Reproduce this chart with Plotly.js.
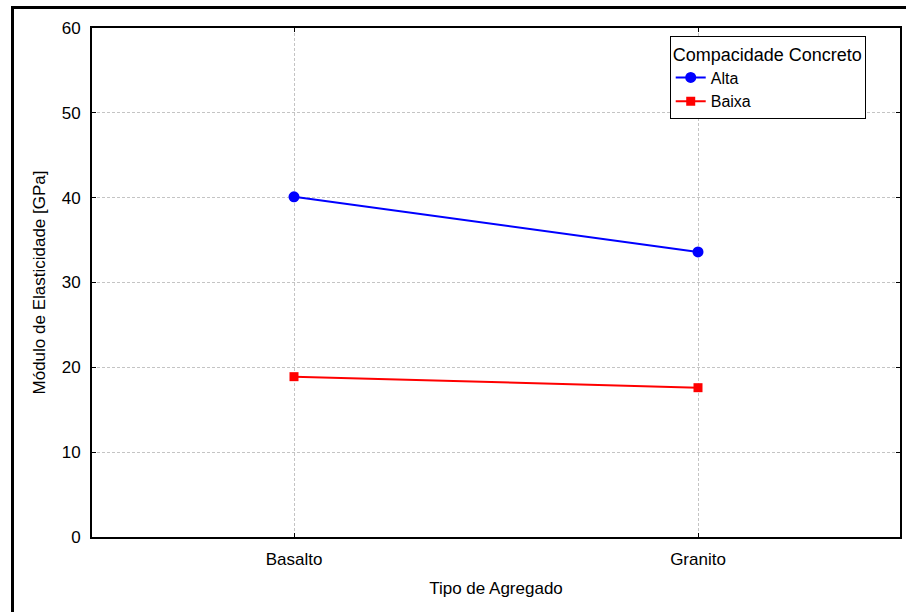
<!DOCTYPE html>
<html>
<head>
<meta charset="utf-8">
<script src="https://cdn.plot.ly/plotly-3.0.1.min.js"></script>
<style>
html,body{margin:0;padding:0;background:#fff;}
#wrap{position:relative;width:906px;height:612px;}
#chart{width:906px;height:612px;}
#frameL{position:absolute;left:11px;top:6px;width:3px;height:606px;background:#000;}
#frameT{position:absolute;left:11px;top:6px;width:895px;height:3px;background:#000;}
</style>
</head>
<body>
<div id="wrap">
<div id="chart"></div>
<div id="frameL"></div>
<div id="frameT"></div>
</div>
<script>
const categories = ["Basalto", "Granito"];
const alta = [40.1, 33.6];
const baixa = [18.9, 17.6];
const yTicks = [0, 10, 20, 30, 40, 50, 60];

const font = "Liberation Sans, Arial, sans-serif";

const traces = [
  {
    x: categories, y: alta, name: "Alta", type: "scatter", mode: "lines+markers",
    line: {color: "#0000ff", width: 2},
    marker: {symbol: "circle", size: 11, color: "#0000ff"}
  },
  {
    x: categories, y: baixa, name: "Baixa", type: "scatter", mode: "lines+markers",
    line: {color: "#ff0000", width: 2},
    marker: {symbol: "square", size: 9, color: "#ff0000"}
  }
];

const axisCommon = {
  showline: true, linecolor: "#000", linewidth: 2, mirror: "ticks",
  ticks: "inside", ticklen: 4, tickcolor: "#000", tickwidth: 1,
  showgrid: true, gridcolor: "#c4c4c4", gridwidth: 1, griddash: "3px,2px",
  zeroline: false,
  tickfont: {family: font, size: 17, color: "#000"}
};

const layout = {
  width: 906, height: 612,
  margin: {l: 92, r: 6, t: 28, b: 75},
  paper_bgcolor: "#fff", plot_bgcolor: "#fff",
  font: {family: font, color: "#000"},
  showlegend: true,
  xaxis: Object.assign({}, axisCommon, {
    type: "category", range: [-0.5, 1.5],
    title: {text: "Tipo de Agregado", font: {family: font, size: 17, color: "#000"}, standoff: 14},
    ticklabelstandoff: 6
  }),
  yaxis: Object.assign({}, axisCommon, {
    range: [0, 60], tickvals: yTicks, ticktext: yTicks.map(String),
    title: {text: "Módulo de Elasticidade [GPa]", font: {family: font, size: 17, color: "#000"}, standoff: 12},
    ticklabelstandoff: 6
  }),
  legend: {
    x: 0.715, y: 0.984, xanchor: "left", yanchor: "top",
    bgcolor: "#fff", bordercolor: "#000", borderwidth: 1,
    font: {family: font, size: 16, color: "#000"},
    title: {text: "Compacidade Concreto", side: "top", font: {family: font, size: 18, color: "#000"}},
    tracegroupgap: 0, itemwidth: 30
  }
};

Plotly.newPlot("chart", traces, layout, {displayModeBar: false, staticPlot: true});
</script>
</body>
</html>
